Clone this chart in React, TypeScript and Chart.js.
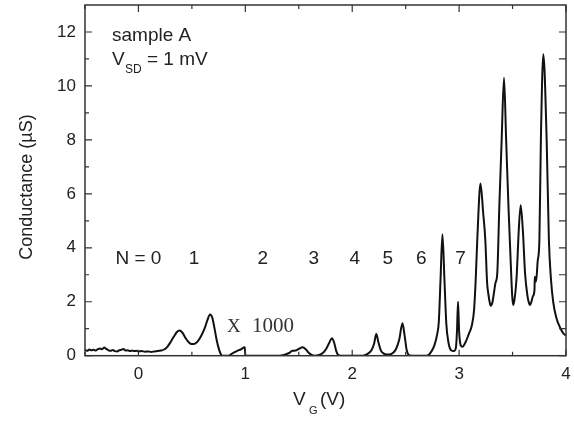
import React, { useEffect, useRef } from 'react';
import { Chart, registerables } from 'chart.js';
Chart.register(...registerables);

const vg = [
  -0.5, -0.48, -0.46, -0.44, -0.42, -0.4, -0.38, -0.36, -0.34, -0.32, -0.3, -0.28, -0.26, -0.24, -0.22, -0.2,
  -0.18, -0.16, -0.14, -0.12, -0.1, -0.08, -0.06, -0.04, -0.02, 0.0, 0.03, 0.06, 0.09, 0.12, 0.15, 0.18, 0.21,
  0.24, 0.27, 0.3, 0.33, 0.36, 0.385, 0.41, 0.44, 0.47, 0.5, 0.53, 0.56, 0.59, 0.62, 0.645, 0.67, 0.69, 0.71,
  0.73, 0.75, 0.77, 0.785, 0.84, 0.88, 0.92, 0.96, 0.995, 1.0, 1.32, 1.37, 1.41, 1.44, 1.47, 1.5, 1.535, 1.565,
  1.59, 1.62, 1.65, 1.69, 1.73, 1.76, 1.79, 1.81, 1.83, 1.85, 1.87, 1.89, 2.1, 2.14, 2.18, 2.205, 2.225, 2.245,
  2.27, 2.3, 2.34, 2.38, 2.41, 2.44, 2.47, 2.49, 2.51, 2.53, 2.55, 2.7, 2.74, 2.77, 2.795, 2.81, 2.826, 2.844,
  2.863, 2.88, 2.9, 2.925, 2.95, 2.97, 2.98, 2.99, 3.0, 3.015, 3.03, 3.06, 3.09, 3.12, 3.14, 3.155, 3.17, 3.2,
  3.225, 3.245, 3.262, 3.275, 3.285, 3.296, 3.31, 3.325, 3.34, 3.357, 3.376, 3.398, 3.42, 3.44, 3.462, 3.487,
  3.497, 3.507, 3.517, 3.53, 3.54, 3.556, 3.576, 3.597, 3.617, 3.64, 3.654, 3.664, 3.675, 3.69, 3.705, 3.708,
  3.72, 3.735, 3.751, 3.765, 3.788, 3.819, 3.84, 3.86, 3.88, 3.91, 3.95, 3.975, 4.0,
];
const g = [
  0.22, 0.18, 0.23, 0.2, 0.22, 0.19, 0.24, 0.27, 0.24, 0.3, 0.25, 0.2, 0.18, 0.21, 0.17, 0.16,
  0.2, 0.22, 0.25, 0.19, 0.2, 0.17, 0.19, 0.17, 0.18, 0.16, 0.17, 0.15, 0.16, 0.14, 0.16, 0.17, 0.19,
  0.23, 0.33, 0.5, 0.7, 0.88, 0.93, 0.86, 0.66, 0.5, 0.43, 0.45, 0.56, 0.76, 1.02, 1.32, 1.53, 1.42, 1.05,
  0.62, 0.28, 0.06, 0, 0, 0.09, 0.17, 0.24, 0.31, 0, 0, 0.04, 0.1, 0.18, 0.19, 0.25, 0.31, 0.24,
  0.12, 0.03, 0, 0.03, 0.12, 0.28, 0.52, 0.65, 0.5, 0.18, 0.02, 0, 0, 0.06, 0.2, 0.45, 0.8, 0.5,
  0.18, 0.07, 0.04, 0.1, 0.25, 0.6, 1.2, 0.75, 0.2, 0.02, 0, 0, 0.15, 0.4, 0.8, 1.25, 2.8, 4.5,
  2.8, 1.2, 0.5, 0.2, 0.17, 0.3, 0.9, 2.0, 0.9, 0.38, 0.33, 0.5, 0.8, 1.14, 1.7, 2.8, 4.3, 6.38,
  5.3, 4.3, 2.7, 2.25, 2.0, 1.85, 1.95, 2.3, 2.7, 3.05, 5.5, 8.0, 10.3, 8.0, 5.5, 3.05,
  2.2, 1.88, 2.05, 2.5, 3.05, 4.5, 5.58, 4.6, 3.05, 2.2, 1.95, 1.88, 1.98, 2.2, 2.43, 2.93,
  2.75, 3.5, 4.28, 8.0, 11.17, 8.0, 4.28, 2.8, 2.0, 1.4, 1.0, 0.83, 0.75,
];

const xMajorTicks = [0, 1, 2, 3, 4];
const xMinorTicks = [-0.5, 0.5, 1.5, 2.5, 3.5];
const yMajorTicks = [0, 2, 4, 6, 8, 10, 12];
const yMinorTicks = [1, 3, 5, 7, 9, 11];

const nLabels = ['N = 0', '1', '2', '3', '4', '5', '6', '7'];
const nLabelV = [-0.215, 0.519, 1.164, 1.64, 2.023, 2.332, 2.645, 3.014];
const nLabelG = 3.4;

const SANS = '"Liberation Sans", Arial, Helvetica, sans-serif';
const SERIF = '"Liberation Serif", "Times New Roman", serif';

export default function App() {
  const ref = useRef<HTMLCanvasElement>(null);
  useEffect(() => {
    document.body.style.margin = '0';
    const canvas = ref.current;
    if (!canvas) return;

    const framePlugin = {
      id: 'frameAndText',
      afterDraw(chart: any) {
        const { ctx, chartArea: a, scales } = chart;
        const xs = scales.x;
        const ys = scales.y;
        ctx.save();
        ctx.strokeStyle = '#333';
        ctx.lineWidth = 1.5;
        ctx.strokeRect(a.left, a.top, a.right - a.left, a.bottom - a.top);
        ctx.lineWidth = 1.2;
        ctx.beginPath();
        const xt = (v: number, len: number, lenTop: number) => {
          const px = xs.getPixelForValue(v);
          ctx.moveTo(px, a.bottom);
          ctx.lineTo(px, a.bottom - len);
          ctx.moveTo(px, a.top);
          ctx.lineTo(px, a.top + lenTop);
        };
        xMajorTicks.forEach((v) => xt(v, 6, 7));
        xMinorTicks.forEach((v) => xt(v, 4, 4));
        const yt = (v: number, len: number) => {
          const py = ys.getPixelForValue(v);
          ctx.moveTo(a.left, py);
          ctx.lineTo(a.left + len, py);
          ctx.moveTo(a.right, py);
          ctx.lineTo(a.right - 7, py);
        };
        yMajorTicks.forEach((v) => yt(v, 7));
        yMinorTicks.forEach((v) => yt(v, 4));
        ctx.stroke();

        ctx.fillStyle = '#222';
        ctx.textBaseline = 'alphabetic';
        ctx.textAlign = 'left';
        ctx.font = `19px ${SANS}`;
        ctx.fillText('sample A', 112, 40.7);
        ctx.fillText('V', 112, 65);
        ctx.font = `12px ${SANS}`;
        ctx.fillText('SD', 125, 73);
        ctx.font = `19px ${SANS}`;
        ctx.fillText('= 1 mV', 147, 65);

        nLabels.forEach((t, i) => {
          ctx.textAlign = i === 0 ? 'left' : 'center';
          ctx.fillText(t, xs.getPixelForValue(nLabelV[i]), ys.getPixelForValue(nLabelG));
        });

        ctx.fillStyle = '#333';
        ctx.textAlign = 'left';
        ctx.font = `19px ${SERIF}`;
        ctx.fillText('X', 227, 332);
        ctx.font = `21px ${SERIF}`;
        ctx.fillText('1000', 252, 332);

        ctx.fillStyle = '#222';
        ctx.font = `19px ${SANS}`;
        ctx.fillText('V', 293, 405);
        ctx.font = `11px ${SANS}`;
        ctx.fillText('G', 309, 414);
        ctx.font = `19px ${SANS}`;
        ctx.fillText('(V)', 320, 405);

        ctx.translate(27, 187);
        ctx.rotate(-Math.PI / 2);
        ctx.textAlign = 'center';
        ctx.textBaseline = 'middle';
        ctx.font = `18px ${SANS}`;
        ctx.fillText('Conductance (\u00B5S)', 0, 0);
        ctx.restore();
      },
    };

    const chart = new Chart(canvas, {
      type: 'line',
      data: {
        datasets: [
          {
            data: vg.map((x, i) => ({ x, y: g[i] })),
            borderColor: '#111',
            borderWidth: 2,
            pointRadius: 0,
            cubicInterpolationMode: 'monotone',
            fill: false,
          },
        ],
      },
      options: {
        responsive: false,
        animation: false,
        layout: { padding: { top: 5, right: 8, left: 0, bottom: 0 } },
        plugins: { legend: { display: false }, tooltip: { enabled: false } },
        scales: {
          x: {
            type: 'linear',
            min: -0.5,
            max: 4,
            grid: { display: false, drawTicks: false },
            border: { display: false },
            afterBuildTicks: (s: any) => {
              s.ticks = xMajorTicks.map((v) => ({ value: v }));
            },
            afterFit: (s: any) => {
              s.height = 65.3;
              s.paddingLeft = 0;
              s.paddingRight = 0;
              s.paddingTop = 0;
              s.paddingBottom = 0;
            },
            ticks: {
              padding: 8,
              maxRotation: 0,
              autoSkip: false,
              color: '#222',
              font: { family: SANS, size: 17 },
              callback: (v: any) => String(v),
            },
          },
          y: {
            type: 'linear',
            min: 0,
            max: 13,
            grid: { display: false, drawTicks: false },
            border: { display: false },
            afterBuildTicks: (s: any) => {
              s.ticks = yMajorTicks.map((v) => ({ value: v }));
            },
            afterFit: (s: any) => {
              s.width = 85;
              s.paddingLeft = 0;
              s.paddingRight = 0;
              s.paddingTop = 0;
              s.paddingBottom = 0;
            },
            ticks: {
              padding: 9,
              autoSkip: false,
              color: '#222',
              font: { family: SANS, size: 17 },
              callback: (v: any) => String(v),
            },
          },
        },
      },
      plugins: [framePlugin],
    } as any);
    return () => chart.destroy();
  }, []);
  return (
    <div style={{ position: 'absolute', left: 0, top: 0, width: 574, height: 421 }}>
      <canvas ref={ref} width={574} height={421} style={{ display: 'block' }} />
    </div>
  );
}
